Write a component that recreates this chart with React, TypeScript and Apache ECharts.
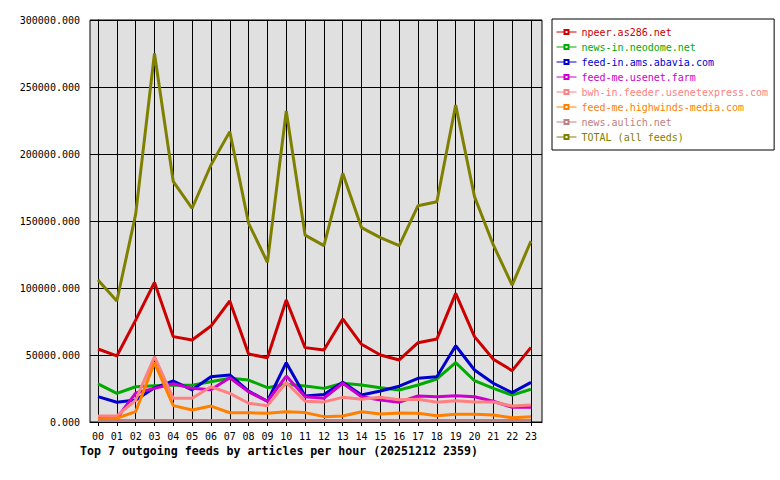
import React, { useEffect, useRef } from "react";
import * as echarts from "echarts";

const HOURS = ["00","01","02","03","04","05","06","07","08","09","10","11","12","13","14","15","16","17","18","19","20","21","22","23"];

const NPEER = [54500, 49300, 76000, 104200, 63700, 61200, 71600, 90300, 50700, 48000, 91000, 55500, 53700, 76900, 58000, 50000, 46300, 59200, 61900, 96000, 63700, 46800, 38300, 55700];
const NEODOME = [28400, 21400, 26300, 27100, 27500, 27500, 30100, 32600, 31300, 25600, 28100, 26900, 25100, 28900, 27600, 25600, 23900, 27600, 32100, 44300, 30800, 25100, 20100, 24400];
const ABAVIA = [18900, 14700, 16400, 25500, 30600, 24000, 33800, 35100, 23000, 15500, 44300, 19400, 20600, 29600, 20100, 23100, 26700, 32600, 33800, 56900, 38800, 28900, 21900, 29600];
const USENETFARM = [2800, 2800, 21600, 25100, 28500, 25100, 24000, 33000, 22500, 15500, 34300, 18900, 17700, 28900, 18900, 16400, 14800, 19400, 18900, 19600, 18900, 15500, 11000, 11000];
const USENETEXPRESS = [4500, 4500, 16400, 48700, 17700, 17700, 26300, 21400, 14000, 12200, 29500, 15500, 15000, 18400, 16900, 18400, 16600, 16900, 14700, 15900, 14900, 14900, 11900, 12700];
const HIGHWINDS = [2200, 2800, 7700, 44300, 12200, 9000, 11900, 6900, 6900, 6500, 7700, 7000, 4000, 4500, 7700, 6000, 6700, 6500, 4700, 5700, 5700, 5200, 3200, 4000];
const AULICH = [1200, 1200, 1200, 1200, 1200, 1200, 1200, 1200, 1200, 1200, 1200, 1200, 1200, 1200, 1200, 1200, 1200, 1200, 1200, 1200, 1200, 1200, 1200, 1200];
const TOTAL = [106000, 90300, 155000, 275000, 179300, 159500, 191800, 216700, 148300, 119200, 232100, 139500, 131600, 185600, 145000, 137600, 131600, 161400, 164400, 236600, 168200, 132100, 102200, 135100];

const SERIES_NAMES = [
  "npeer.as286.net",
  "news-in.neodome.net",
  "feed-in.ams.abavia.com",
  "feed-me.usenet.farm",
  "bwh-in.feeder.usenetexpress.com",
  "feed-me.highwinds-media.com",
  "news.aulich.net",
  "TOTAL (all feeds)",
];
const SERIES_VALUES = [NPEER, NEODOME, ABAVIA, USENETFARM, USENETEXPRESS, HIGHWINDS, AULICH, TOTAL];
const COLORS = ["#cc0000", "#00aa00", "#0000cc", "#cc00cc", "#ff8080", "#ff8000", "#c08080", "#808000"];

const TITLE = "Top 7 outgoing feeds by articles per hour (20251212 2359)";
const MONO = "'DejaVu Sans Mono', monospace";

export default function App() {
  const ref = useRef<HTMLDivElement>(null);
  useEffect(() => {
    if (!ref.current) return;
    const chart = echarts.init(ref.current, undefined, { renderer: "svg" });
    const idx = HOURS.map((_, i) => i);
    chart.setOption({
      animation: false,
      backgroundColor: "#ffffff",
      title: {
        text: TITLE,
        left: 80,
        top: 445,
        padding: 0,
        textStyle: { fontFamily: MONO, fontSize: 11.6, fontWeight: "bold", color: "#000" },
      },
      legend: {
        orient: "vertical",
        left: 552,
        top: 19,
        padding: [8, 6, 8, 4],
        backgroundColor: "#ffffff",
        borderColor: "#000",
        borderWidth: 1,
        borderRadius: 0,
        itemWidth: 20,
        itemHeight: 5,
        itemGap: 5,
        itemTextGap: 3,
        lineStyle: { width: 1 },
        textStyle: { fontFamily: MONO, fontSize: 10, lineHeight: 10 },
        data: SERIES_NAMES.map((n, i) => ({ name: n, textStyle: { color: COLORS[i] } })),
      },
      grid: {
        left: 90,
        top: 20,
        right: 238,
        bottom: 58,
        show: true,
        backgroundColor: "#e0e0e0",
        borderColor: "#000",
        borderWidth: 1,
      },
      xAxis: {
        type: "value",
        min: -0.425,
        max: 23.585,
        axisLine: { show: true, onZero: false, lineStyle: { color: "#000", width: 1 } },
        axisTick: { show: true, customValues: idx, length: 4, lineStyle: { color: "#000" } },
        axisLabel: {
          customValues: idx,
          formatter: (v: number) => HOURS[Math.round(v)] ?? "",
          fontFamily: MONO,
          fontSize: 10,
          color: "#000",
          margin: 9,
        },
        splitLine: { show: true, lineStyle: { color: "#000", width: 1 } },
      },
      yAxis: {
        type: "value",
        min: 0,
        max: 300000,
        interval: 50000,
        axisLine: { show: true, lineStyle: { color: "#000", width: 1 } },
        axisTick: { show: true, length: 8, lineStyle: { color: "#000" } },
        axisLabel: {
          formatter: (v: number) => v.toFixed(3),
          fontFamily: MONO,
          fontSize: 10,
          color: "#000",
          margin: 10,
        },
        splitLine: { show: true, lineStyle: { color: "#000", width: 1 } },
      },
      series: SERIES_NAMES.map((n, i) => ({
        name: n,
        type: "line",
        data: SERIES_VALUES[i].map((v, h) => [h, v]),
        symbol: "emptyRect",
        symbolSize: 4,
        showSymbol: false,
        color: COLORS[i],
        lineStyle: { width: 3, color: COLORS[i] },
        itemStyle: { color: COLORS[i] },
        emphasis: { disabled: true },
      })),
    });
    return () => chart.dispose();
  }, []);
  return <div ref={ref} style={{ position: "fixed", left: 0, top: 0, width: 780, height: 480 }} />;
}
